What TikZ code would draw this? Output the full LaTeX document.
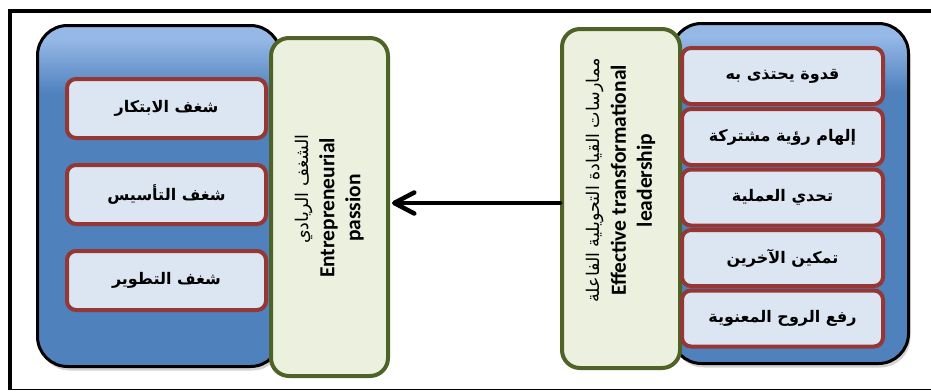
\documentclass[tikz,border=0pt]{standalone}
\usepackage{fontspec}
\setmainfont{Carlito}
\newfontfamily\arabicfont[Script=Arabic]{DejaVu Sans}
\TeXXeTstate=1
\usetikzlibrary{arrows.meta,shadows}
\definecolor{bluemain}{HTML}{4F81BD}
\definecolor{bluetop}{HTML}{95B8E6}
\definecolor{itemred}{HTML}{953735}
\definecolor{itemfill}{HTML}{DCE6F2}
\definecolor{greenline}{HTML}{4F6228}
\definecolor{greenfill}{HTML}{EBF1DE}
\pgfdeclareverticalshading{blueshade}{100bp}{color(0bp)=(bluemain); color(25bp)=(bluemain); color(65bp)=(bluemain); color(73bp)=(bluetop); color(75bp)=(bluetop); color(100bp)=(bluetop)}
\tikzset{
  bluebox/.style={draw=black, line width=3pt, rounded corners=30pt,
    shading=blueshade,
    drop shadow={opacity=0.35, shadow xshift=2pt, shadow yshift=-4pt},
    inner sep=0pt},
  greenbox/.style={draw=greenline, line width=4pt, fill=greenfill,
    rounded corners=18pt, inner sep=0pt},
  itembox/.style={draw=itemred, line width=4pt, fill=itemfill,
    rounded corners=9pt, inner sep=0pt,
    drop shadow={opacity=0.25, shadow xshift=1pt, shadow yshift=-2pt},
    font=\arabicfont\bfseries\fontsize{16}{19}\selectfont},
  sidetext/.style={rotate=90, align=center, font=\fontsize{21.5}{26}\selectfont},
  flowarrow/.style={line width=4.5pt, line cap=round,
    -{Straight Barb[length=20pt, width=21pt, line cap=round, line join=round]}},
}
\newcommand{\ar}[1]{\beginR #1\endR}
\begin{document}
\begin{tikzpicture}[x=1pt, y=-1pt]
\useasboundingbox (0,0) rectangle (931,391);
% outer frame
\draw[line width=4pt] (10,11) -- (931,11);
\draw[line width=4pt] (10,9) -- (10,390);
\draw[line width=1.8pt] (8,389.5) -- (931,389.5);
% left group
\node[bluebox, minimum width=243pt, minimum height=341pt] (lb) at (159,196) {};
\node[itembox, minimum width=199pt, minimum height=59pt] (l1) at (166.5,108.5) {\ar{شغف الابتكار}};
\node[itembox, minimum width=199pt, minimum height=59pt] (l2) at (166.5,194.5) {\ar{شغف التأسيس}};
\node[itembox, minimum width=199pt, minimum height=59pt] (l3) at (166.5,280.5) {\ar{شغف التطوير}};
\node[greenbox, minimum width=117pt, minimum height=338pt] (lg) at (329.5,207) {};
\node[sidetext] (lgt) at ([yshift=-1pt]lg.center) {\hspace*{38pt}{\arabicfont\fontsize{17.5}{26}\selectfont\ar{الشغف الريادي}}\\ \textbf{Entrepreneurial}\\ \textbf{passion}};
% right group
\node[bluebox, minimum width=237pt, minimum height=340pt] (rb) at (790,193.5) {};
\node[greenbox, minimum width=118pt, minimum height=339pt] (rg) at (621,198.5) {};
\node[sidetext] (rgt) at ([yshift=18pt]rg.center) {{\arabicfont\fontsize{17.5}{26}\selectfont\ar{ممارسات القيادة التحويلية الفاعلة}}\\ \textbf{Effective transformational}\\ \textbf{leadership}};
\node[itembox, minimum width=201pt, minimum height=56pt] (r1) at (782.5,76) {\ar{قدوة يحتذى به}};
\node[itembox, minimum width=201pt, minimum height=56pt] (r2) at (782.5,137) {\ar{إلهام رؤية مشتركة}};
\node[itembox, minimum width=201pt, minimum height=56pt] (r3) at (782.5,197.5) {\ar{تحدي العملية}};
\node[itembox, minimum width=201pt, minimum height=56pt] (r4) at (782.5,258) {\ar{تمكين الآخرين}};
\node[itembox, minimum width=201pt, minimum height=56pt] (r5) at (782.5,318.5) {\ar{رفع الروح المعنوية}};
% arrow
\coordinate (ay) at (0,203);
\draw[flowarrow] (rg.west |- ay) -- ([xshift=2pt]lg.east |- ay);
\end{tikzpicture}
\end{document}
